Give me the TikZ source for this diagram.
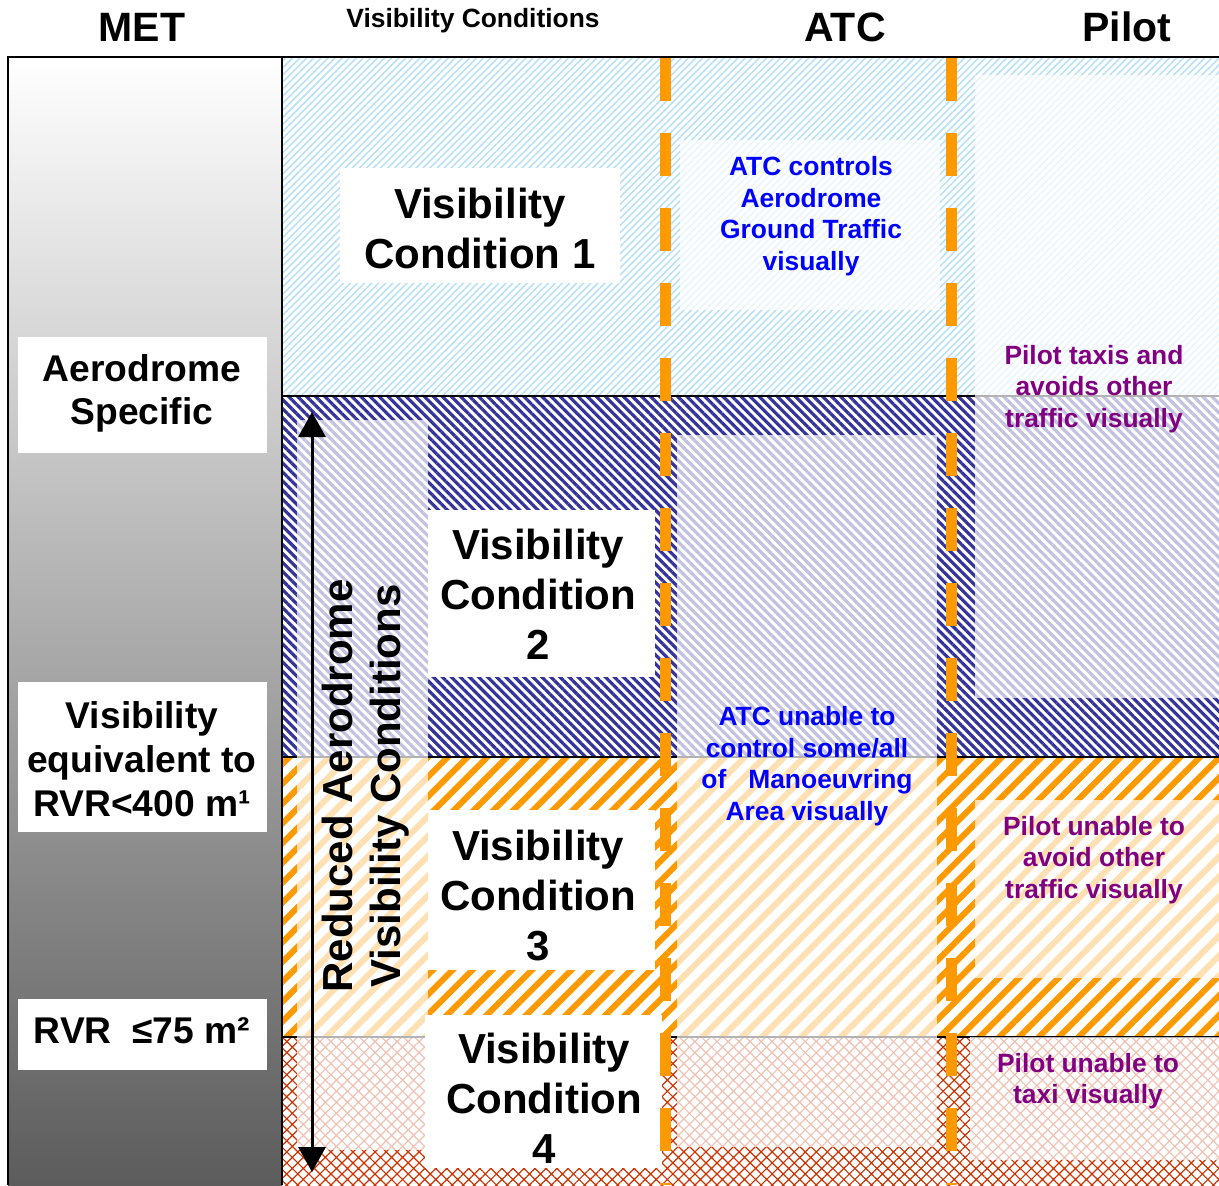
\documentclass[tikz,border=0pt]{standalone}
\usepackage{fontspec}
\setmainfont{Liberation Sans}
\usetikzlibrary{patterns.meta,arrows.meta}
\definecolor{navy}{RGB}{51,51,153}
\definecolor{lblue}{RGB}{185,226,248}
\definecolor{orng}{RGB}{255,153,0}
\definecolor{rust}{RGB}{204,51,0}
\definecolor{purp}{RGB}{128,0,128}
\definecolor{metdark}{RGB}{92,92,92}
\definecolor{metmid}{RGB}{192,192,192}
\begin{document}
\begin{tikzpicture}[x=0.5pt,y=-0.5pt,
  bigtxt/.style={font=\fontsize{21pt}{25pt}\selectfont\bfseries, align=center, inner sep=0pt},
  mettxt/.style={font=\fontsize{18.6pt}{22pt}\selectfont\bfseries, align=center, inner sep=0pt},
  atctxt/.style={font=\fontsize{13.2pt}{15.8pt}\selectfont\bfseries, align=center, text=blue, inner sep=0pt},
  pilottxt/.style={font=\fontsize{13.2pt}{15.8pt}\selectfont\bfseries, align=center, text=purp, inner sep=0pt},
  headtxt/.style={font=\fontsize{20.5pt}{24pt}\selectfont\bfseries, inner sep=0pt},
  veil/.style={fill=white, fill opacity=0.7},
  plainbox/.style={fill=white},
  bandline/.style={line width=1pt, black},
  ctrlline/.style={draw=orng, line width=5.5pt, dash pattern=on 21.5pt off 16pt},
  framel/.style={line width=1pt, black},
]
\useasboundingbox (0,0) rectangle (1219,1185);
\fill[white] (0,0) rectangle (1219,1185);

% MET column gradient
\shade[top color=white, middle color=metmid, bottom color=metdark] (8,57) rectangle (282,1185);

% bands
\fill[pattern={Lines[angle=45,distance=2.5pt,line width=0.8pt]}, pattern color=lblue] (282,57) rectangle (1219,396);
\fill[pattern={Lines[angle=-45,distance=3.2pt,line width=1.6pt]}, pattern color=navy] (282,396) rectangle (1219,757);
\fill[pattern={Lines[angle=45,distance=7pt,line width=3pt]}, pattern color=orng] (282,757) rectangle (1219,1037);
\fill[pattern={Hatch[angle=45,distance=3.9pt,line width=0.6pt]}, pattern color=rust] (282,1037) rectangle (1219,1185);

% band boundaries
\draw[bandline] (282,396) -- (1219,396);
\draw[bandline] (282,757) -- (1219,757);
\draw[bandline] (282,1037) -- (1219,1037);

% light veils
\fill[veil] (297,420) rectangle (428,1150);
\fill[veil] (680,140) rectangle (940,310);
\fill[veil] (677,435) rectangle (937,1147);
\fill[veil] (975,75) rectangle (1219,698);
\fill[veil] (975,800) rectangle (1219,978);
\fill[veil] (970,1037) rectangle (1219,1160);

% white boxes
\fill[plainbox] (340,168) rectangle (620,283);
\fill[plainbox] (428,510) rectangle (655,677);
\fill[plainbox] (428,810) rectangle (655,970);
\fill[plainbox] (425,1015) rectangle (662,1168);
\fill[plainbox] (18,337) rectangle (267,453);
\fill[plainbox] (18,682) rectangle (267,832);
\fill[plainbox] (18,999) rectangle (267,1070);

% frame
\draw[framel] (8,1185) -- (8,57) -- (1219,57);
\draw[framel] (282,57) -- (282,1185);

% orange dashed separators
\coordinate (d1top) at (665,57.5);
\coordinate (d1bot) at (665,1185);
\coordinate (d2top) at (951,57.5);
\coordinate (d2bot) at (951,1185);
\draw[ctrlline] (d1top) -- (d1bot);
\draw[ctrlline] (d2top) -- (d2bot);

% arrow
\coordinate (atop) at (312,412);
\coordinate (abot) at (312,1172);
\draw[line width=1.5pt, {Triangle[length=12.5pt,width=13.5pt]}-{Triangle[length=12.5pt,width=13.5pt]}] (atop) -- (abot);

% headers
\node[headtxt] (met) at (142,27) {MET};
\node[font=\fontsize{13.2pt}{16pt}\selectfont\bfseries, inner sep=0pt] (vchead) at (473,21) {Visibility Conditions};
\node[headtxt] (atc) at (845,27) {ATC};
\node[headtxt] (pilot) at (1127,27) {Pilot};

% texts
\node[bigtxt, rotate=90, font=\fontsize{21pt}{24pt}\selectfont\bfseries] (reduced) at (366,786) {Reduced Aerodrome\\Visibility Conditions};
\node[bigtxt] (vc1) at (480,228) {Visibility\\Condition 1};
\node[bigtxt] (vc2) at (538,594) {Visibility\\Condition\\2};
\node[bigtxt] (vc3) at (538,895) {Visibility\\Condition\\3};
\node[bigtxt] (vc4) at (544,1098) {Visibility\\Condition\\4};
\node[atctxt] (atc1) at (811,216) {ATC controls\\Aerodrome\\Ground Traffic\\visually};
\node[atctxt] (atc2) at (807,766) {ATC unable to\\control some/all\\of\ \ \ Manoeuvring\\Area visually};
\node[pilottxt] (pil1) at (1094,389) {Pilot taxis and\\avoids other\\traffic visually};
\node[pilottxt] (pil2) at (1094,860) {Pilot unable to\\avoid other\\traffic visually};
\node[pilottxt] (pil3) at (1088,1081) {Pilot unable to\\taxi visually};
\node[mettxt, font=\fontsize{18.6pt}{21.5pt}\selectfont\bfseries] (aero) at (142,393) {Aerodrome\\Specific};
\node[mettxt] (rvr400) at (142,759) {Visibility\\equivalent to\\RVR<400 m¹};
\node[mettxt] (rvr75) at (142,1031) {RVR\ \ ≤75 m²};
\end{tikzpicture}
\end{document}
